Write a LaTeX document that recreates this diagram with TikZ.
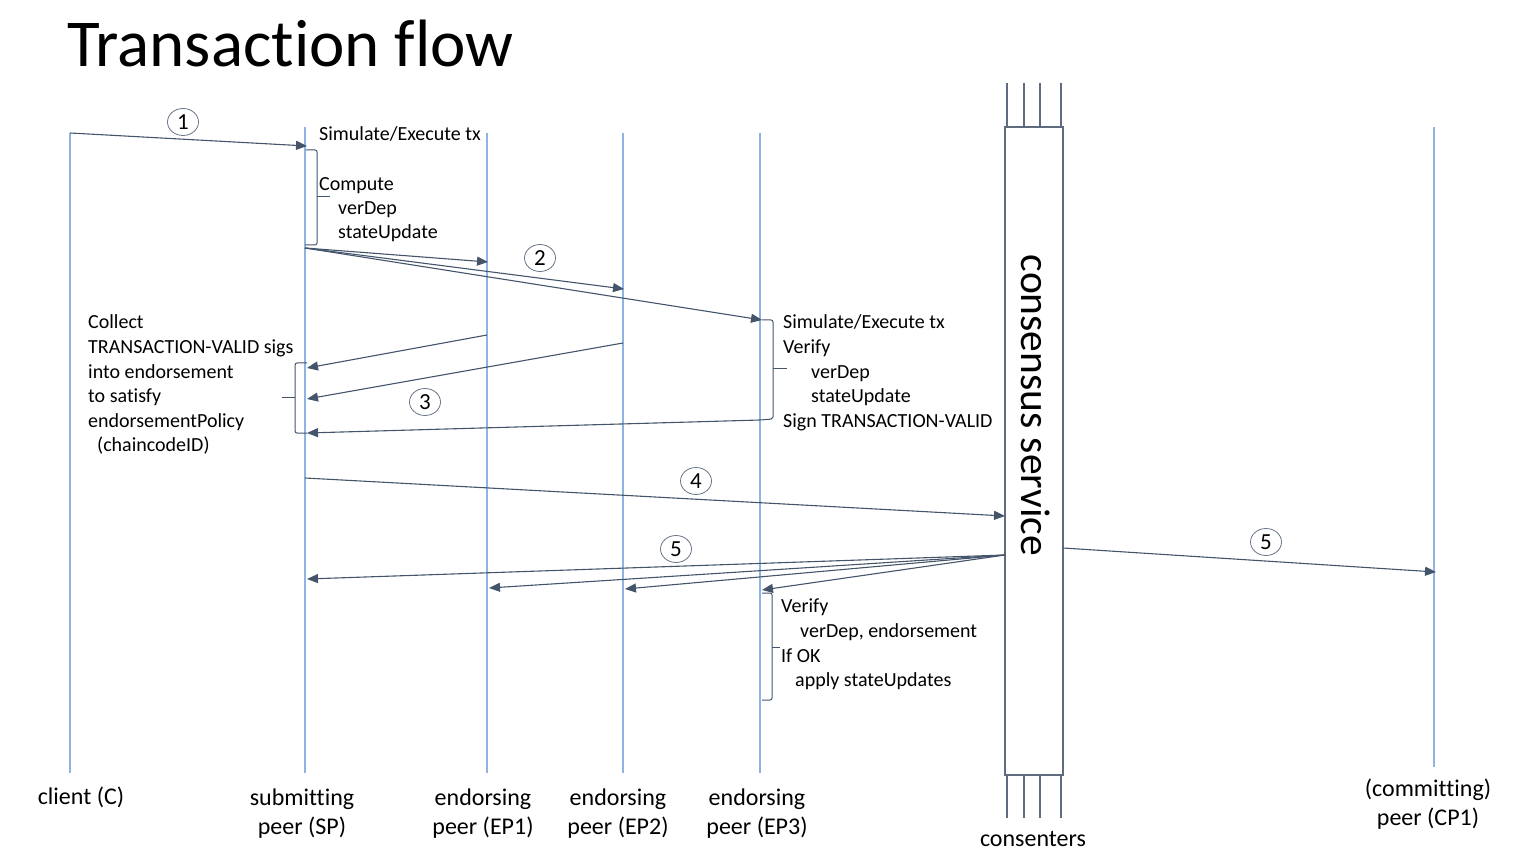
\documentclass[tikz,border=0pt]{standalone}
\usepackage{fontspec}
\setmainfont{Carlito}[Ligatures={NoCommon}]
\usetikzlibrary{arrows.meta,shapes.geometric}
\definecolor{lifeblue}{HTML}{8EB4E3}
\definecolor{arrowcol}{HTML}{44546A}
\definecolor{boxcol}{HTML}{5F6B7E}
\begin{document}
\begin{tikzpicture}[x=1pt,y=-1pt,
  life/.style={draw=lifeblue,line width=1.1pt},
  msg/.style={draw=arrowcol,line width=1.1pt,-{Triangle[length=11pt,width=9pt]}},
  brace/.style={draw=arrowcol,line width=1pt,rounded corners=2pt},
  circ/.style={ellipse,draw=arrowcol!80,line width=0.8pt,minimum width=31pt,minimum height=27pt,inner sep=0pt,font=\fontsize{23}{26}\selectfont},
  txt/.style={anchor=mid west,inner sep=0pt,yshift=-5pt,font=\fontsize{20}{24}\selectfont},
  lbl/.style={align=center,inner sep=0pt,font=\fontsize{24}{29}\selectfont},
  cline/.style={draw=boxcol,line width=1.3pt}]
\useasboundingbox (0,0) rectangle (1534,858);
\node[anchor=base west,inner sep=0pt,font=\fontsize{67}{70}\selectfont] (title) at (67,67) {Transaction flow};
% lifelines
\coordinate (Ct) at (70,133); \coordinate (Cb) at (70,773);
\coordinate (SPt) at (305,127); \coordinate (SPb) at (305,773);
\coordinate (E1t) at (487,133); \coordinate (E1b) at (487,773);
\coordinate (E2t) at (623,133); \coordinate (E2b) at (623,773);
\coordinate (E3t) at (760,133); \coordinate (E3b) at (760,773);
\coordinate (CPt) at (1434,127); \coordinate (CPb) at (1434,767);
\draw[life] (Ct) -- (Cb);
\draw[life] (SPt) -- (SPb);
\draw[life] (E1t) -- (E1b);
\draw[life] (E2t) -- (E2b);
\draw[life] (E3t) -- (E3b);
\draw[life] (CPt) -- (CPb);
% consensus box
\node[draw=boxcol,line width=1.3pt,minimum width=58pt,minimum height=648pt,inner sep=0pt] (cs) at (1034,451) {};
\node[rotate=-90,inner sep=0pt,font=\fontsize{41.5}{44}\selectfont] (cstext) at (1036,405.5) {consensus service};
\foreach \xx in {1007,1024,1040,1061}{
  \draw[cline] (\xx,83) -- (\xx,127);
  \draw[cline] (\xx,775) -- (\xx,818);
}
% bottom labels
\node[lbl] (lc) at (81,797) {client (C)};
\node[lbl,anchor=north] (lsp) at (302,789) {submitting\\peer (SP)};
\node[lbl,anchor=north] (le1) at (483,789) {endorsing\\peer (EP1)};
\node[lbl,anchor=north] (le2) at (618,789) {endorsing\\peer (EP2)};
\node[lbl,anchor=north] (le3) at (757,789) {endorsing\\peer (EP3)};
\node[lbl,anchor=north] (lcp) at (1428,779) {(committing)\\peer (CP1)};
\node[lbl] (lcons) at (1033,839) {consenters};
% step 1
\coordinate (a1s) at (70,133); \coordinate (a1e) at (307,146);
\draw[msg] (a1s) -- (a1e);
\node[circ] (n1) at (183,122) {1};
\node[txt] (t1) at (319,133) {Simulate/Execute tx};
\draw[brace] (306,150) -- (317,150) -- (317,245) -- (305,245);
\draw[brace] (317,197) -- (330,197);
\node[txt] (t2) at (319,183) {Compute};
\node[txt] (t3) at (338,207) {verDep};
\node[txt] (t4) at (338,231) {stateUpdate};
% step 2
\coordinate (a2s) at (305,248);
\coordinate (a2a) at (488,262); \coordinate (a2b) at (624,289); \coordinate (a2c) at (762,320);
\draw[msg] (a2s) -- (a2a);
\draw[msg] (a2s) -- (a2b);
\draw[msg] (a2s) -- (a2c);
\node[circ] (n2) at (540,258) {2};
\draw[brace] (762,320) -- (773,320) -- (773,419) -- (760,420);
\draw[brace] (773,369) -- (787,369);
\node[txt] (u1) at (783,321) {Simulate/Execute tx};
\node[txt] (u2) at (783,346) {Verify};
\node[txt] (u3) at (811,371) {verDep};
\node[txt] (u4) at (811,395) {stateUpdate};
\node[txt] (u5) at (783,420) {Sign TRANSACTION-VALID};
% step 3
\coordinate (a3s1) at (487,335); \coordinate (a3e1) at (307,368);
\coordinate (a3s2) at (623,343); \coordinate (a3e2) at (307,399);
\coordinate (a3s3) at (760,420); \coordinate (a3e3) at (307,433);
\draw[msg] (a3s1) -- (a3e1);
\draw[msg] (a3s2) -- (a3e2);
\draw[msg] (a3s3) -- (a3e3);
\node[circ] (n3) at (425,402) {3};
\draw[brace] (307,363) -- (295,363) -- (295,433) -- (307,433);
\draw[brace] (295,398) -- (282,398);
\node[txt] (v1) at (88,321) {Collect};
\node[txt] (v2) at (88,346) {TRANSACTION-VALID sigs};
\node[txt] (v3) at (88,371) {into endorsement};
\node[txt] (v4) at (88,395) {to satisfy};
\node[txt] (v5) at (88,420) {endorsementPolicy};
\node[txt] (v6) at (97,444) {(chaincodeID)};
% step 4
\coordinate (a4s) at (305,478); \coordinate (a4e) at (1005,516);
\draw[msg] (a4s) -- (a4e);
\node[circ] (n4) at (696,481) {4};
% step 5
\coordinate (a5s) at (1005,555);
\coordinate (a5a) at (307,579); \coordinate (a5b) at (489,588);
\coordinate (a5c) at (625,589); \coordinate (a5d) at (762,590);
\draw[msg] (a5s) -- (a5a);
\draw[msg] (a5s) -- (a5b);
\draw[msg] (a5s) -- (a5c);
\draw[msg] (a5s) -- (a5d);
\node[circ] (n5) at (676,549) {5};
\coordinate (a6s) at (1063,548); \coordinate (a6e) at (1436,572);
\draw[msg] (a6s) -- (a6e);
\node[circ] (n6) at (1266,542) {5};
\draw[brace] (762,593) -- (772,593) -- (772,700) -- (762,700);
\draw[brace] (772,647) -- (780,647);
\node[txt] (w1) at (781,605) {Verify};
\node[txt] (w2) at (800,630) {verDep, endorsement};
\node[txt] (w3) at (781,655) {If OK};
\node[txt] (w4) at (795,679) {apply stateUpdates};
\end{tikzpicture}
\end{document}
